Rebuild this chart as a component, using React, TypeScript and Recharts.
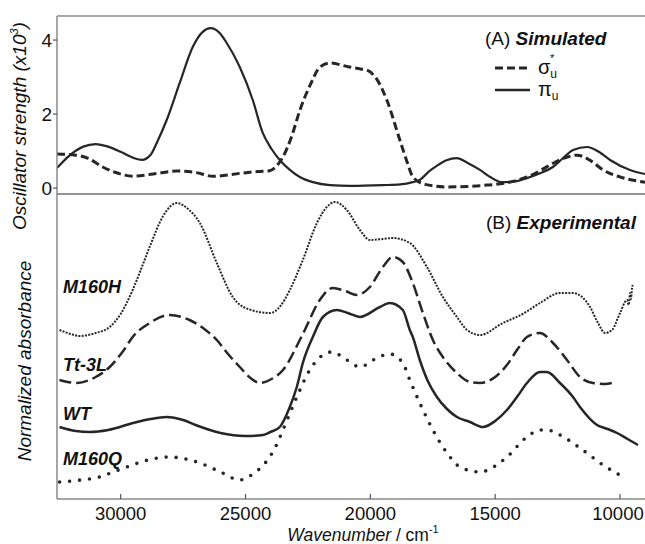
import React from 'react';
import { LineChart, Line, XAxis, YAxis, Legend, ReferenceLine } from 'recharts';

const FONT = '"Liberation Sans", Arial, Helvetica, sans-serif';
const INK = '#262626';
const AXIS = '#8a8a8a';

const xTicks = [30000, 25000, 20000, 15000, 10000];
const topYTicks = [0, 2, 4];

// (A) Simulated: oscillator strength (x10^3)
const sigmaWn = [32550, 31800, 31300, 30720, 30100, 29520, 28700, 27760, 27000, 26300, 25200, 24500, 24030, 23750, 23500, 23150, 22825, 22400, 22020, 21620, 20900, 20400, 20140, 19750, 19340, 18820, 18500, 18300, 17800, 16930, 15330, 14500, 13727, 13200, 12685, 12200, 11723, 11200, 10680, 9900, 9000];
const sigmaVal = [0.92, 0.89, 0.8, 0.57, 0.4, 0.32, 0.38, 0.46, 0.42, 0.32, 0.4, 0.45, 0.47, 0.6, 0.84, 1.4, 2.1, 2.8, 3.27, 3.38, 3.28, 3.22, 3.19, 2.95, 2.38, 1.3, 0.65, 0.3, 0.1, 0.03, 0.08, 0.15, 0.3, 0.47, 0.67, 0.82, 0.89, 0.75, 0.49, 0.28, 0.16];

const piWn = [32550, 32100, 31500, 31000, 30500, 30000, 29500, 29150, 28800, 28557, 28156, 27635, 27114, 26714, 26393, 26050, 25752, 25230, 24710, 24310, 23950, 23630, 23200, 22825, 22300, 21620, 20800, 19500, 18800, 18300, 18020, 17650, 17340, 16950, 16550, 16100, 15610, 15200, 14730, 14200, 13730, 13200, 12690, 12300, 11880, 11320, 10850, 10400, 9600, 9000];
const piVal = [0.54, 0.85, 1.12, 1.19, 1.12, 0.98, 0.82, 0.76, 0.9, 1.22, 1.84, 2.84, 3.81, 4.22, 4.32, 4.2, 3.92, 3.27, 2.38, 1.49, 1.05, 0.76, 0.48, 0.3, 0.16, 0.08, 0.06, 0.08, 0.1, 0.16, 0.22, 0.45, 0.6, 0.75, 0.81, 0.68, 0.49, 0.3, 0.16, 0.18, 0.27, 0.4, 0.57, 0.8, 1.03, 1.11, 0.98, 0.76, 0.49, 0.38];

// (B) Experimental: normalized absorbance (offset traces, arbitrary units)
const m160hWn = [32450, 32000, 31640, 31000, 30440, 30000, 29520, 29150, 28840, 28300, 27760, 27300, 26830, 26150, 25510, 24900, 24030, 23600, 23226, 22705, 22140, 21743, 21423, 20942, 20420, 20020, 19500, 19100, 18420, 17735, 17095, 16533, 16130, 15610, 14690, 13900, 13206, 12405, 11884, 11202, 10882, 10601, 10320, 10000, 9720, 9650, 9600, 9560, 9520, 9490];
const m160hVal = [169, 165, 163, 166, 172, 185, 209, 232, 252, 283, 296, 290, 276, 236, 202, 190, 186, 193, 209, 239, 276, 292, 297, 289, 269, 259, 260, 261, 256, 232, 202, 182, 169, 164, 176, 185, 196, 206, 206, 192, 176, 166, 169, 186, 199, 194, 206, 200, 211, 214];

const tt3lWn = [32450, 31760, 31000, 30440, 29900, 29520, 28840, 28040, 27240, 26650, 26150, 25700, 25230, 24800, 24430, 24030, 23500, 22705, 22024, 21500, 21000, 20540, 20020, 19500, 19100, 18700, 18300, 17896, 17495, 17095, 16533, 16010, 15610, 15000, 14500, 14100, 13730, 13210, 12685, 12124, 11603, 11082, 10600, 10320];
const tt3lVal = [119, 116, 122, 132, 148, 162, 176, 184, 179, 170, 159, 145, 132, 121, 116, 119, 129, 165, 199, 211, 208, 204, 212, 232, 242, 237, 216, 186, 159, 142, 126, 117, 116, 122, 135, 150, 162, 166, 156, 139, 122, 116, 115, 116];

const wtWn = [32450, 31800, 31240, 30500, 29500, 28800, 28160, 27500, 27000, 26000, 25000, 24300, 24000, 23627, 23226, 22946, 22705, 22305, 21900, 21343, 20900, 20420, 19620, 19220, 18700, 18420, 18300, 18020, 17700, 17335, 16930, 16533, 16010, 15490, 15000, 14530, 14100, 13727, 13206, 12926, 12405, 11884, 11603, 10922, 10500, 10120, 9700, 9279];
const wtVal = [72, 68, 67, 69, 76, 80, 82, 79, 74, 66, 63, 64, 67, 72, 92, 112, 136, 162, 182, 189, 186, 182, 192, 196, 189, 169, 162, 139, 118, 102, 90, 82, 77, 72, 78, 89, 103, 116, 127, 127, 116, 102, 92, 74, 70, 66, 60, 54];

const m160qWn = [32445, 31600, 30842, 30300, 29760, 28900, 28036, 27400, 26830, 26000, 25230, 24700, 24150, 23800, 23500, 22946, 22425, 21900, 21543, 20942, 20420, 19740, 19220, 18700, 18420, 18020, 17495, 16930, 16410, 15610, 15000, 14530, 13727, 13206, 12926, 12405, 11603, 10681, 9800];
const m160qVal = [17, 19, 22, 27, 32, 39, 42, 40, 36, 27, 19, 25, 38, 52, 69, 102, 129, 144, 147, 139, 132, 141, 145, 136, 119, 96, 69, 46, 32, 27, 33, 42, 62, 69, 69, 64, 51, 34, 21];

const zip = (wn: number[], v: number[]) => wn.map((x, i) => ({ x, y: v[i] }));

const sigmaData = zip(sigmaWn, sigmaVal);
const piData = zip(piWn, piVal);
const m160hData = zip(m160hWn, m160hVal);
const tt3lData = zip(tt3lWn, tt3lVal);
const wtData = zip(wtWn, wtVal);
const m160qData = zip(m160qWn, m160qVal);

const X_DOMAIN: [number, number] = [9000, 32550];
const TOP_Y: [number, number] = [-0.16, 4.65];
const BOT_Y: [number, number] = [0, 305];
const tickStyle = { fontSize: 19, fill: '#111', fontFamily: FONT };

const XTick = (props: any) => {
  const { x, y, payload } = props;
  const tx = Math.min(x, 645 - 27);
  return (
    <text x={tx} y={y} dy="0.71em" textAnchor="middle" fontSize={18.5} fill="#111" fontFamily={FONT}>
      {payload.value}
    </text>
  );
};

const LegendBox = () => (
  <svg width={110} height={46} style={{ overflow: 'visible', fontFamily: FONT }}>
    <line x1={5} x2={40} y1={12} y2={12} stroke={INK} strokeWidth={3} strokeDasharray="8 4" />
    <text x={48} y={18} fontSize={20} fill="#111">
      σ
      <tspan fontSize={12} dy={4}>u</tspan>
      <tspan fontSize={11} dx={-7} dy={-16}>*</tspan>
    </text>
    <line x1={5} x2={40} y1={34} y2={34} stroke={INK} strokeWidth={2.5} />
    <text x={48} y={40} fontSize={20} fill="#111">
      π<tspan fontSize={12} dy={4}>u</tspan>
    </text>
  </svg>
);

export default function App() {
  return (
    <div style={{ position: 'absolute', left: 0, top: 0, width: 645, height: 544, background: '#fff', fontFamily: FONT }}>
      <div style={{ position: 'absolute', left: 0, top: 190 }}>
        <LineChart width={645} height={354} margin={{ top: 4, right: 0, bottom: 0, left: 0 }}>
          <XAxis
            dataKey="x"
            type="number"
            domain={X_DOMAIN}
            reversed
            allowDataOverflow
            ticks={xTicks}
            interval={0}
            height={45}
            tickSize={-5}
            tickMargin={13}
            tick={<XTick />}
            axisLine={{ stroke: AXIS, strokeWidth: 1.5 }}
            tickLine={{ stroke: '#555', strokeWidth: 1.2 }}
          />
          <YAxis type="number" domain={BOT_Y} width={57} tick={false} tickLine={false} axisLine={{ stroke: AXIS, strokeWidth: 1.5 }} />
          <ReferenceLine y={BOT_Y[1]} stroke={AXIS} strokeWidth={1.5} />
          <Line data={m160hData} dataKey="y" type="monotone" stroke={INK} strokeWidth={2} strokeDasharray="2 1.3" dot={false} isAnimationActive={false} name="M160H" />
          <Line data={tt3lData} dataKey="y" type="monotone" stroke={INK} strokeWidth={2.5} strokeDasharray="12 5" dot={false} isAnimationActive={false} name="Tt-3L" />
          <Line data={wtData} dataKey="y" type="monotone" stroke={INK} strokeWidth={2.5} dot={false} isAnimationActive={false} name="WT" />
          <Line data={m160qData} dataKey="y" type="monotone" stroke={INK} strokeWidth={3.6} strokeDasharray="0 10" strokeLinecap="round" dot={false} isAnimationActive={false} name="M160Q" />
        </LineChart>
      </div>
      <div style={{ position: 'absolute', left: 0, top: 0 }}>
        <LineChart width={645} height={206} margin={{ top: 16, right: 0, bottom: 12, left: 0 }}>
          <XAxis dataKey="x" type="number" domain={X_DOMAIN} reversed allowDataOverflow hide />
          <YAxis
            type="number"
            domain={TOP_Y}
            ticks={topYTicks}
            interval={0}
            width={57}
            tickSize={4}
            tickMargin={1}
            tick={tickStyle}
            axisLine={{ stroke: AXIS, strokeWidth: 1.5 }}
            tickLine={{ stroke: '#555', strokeWidth: 1.2 }}
            allowDataOverflow
          />
          <ReferenceLine y={TOP_Y[1]} stroke={AXIS} strokeWidth={1.5} />
          <ReferenceLine y={TOP_Y[0]} stroke={AXIS} strokeWidth={1.5} />
          <Line data={sigmaData} dataKey="y" type="monotone" stroke={INK} strokeWidth={3} strokeDasharray="8 4" dot={false} isAnimationActive={false} name="σu*" />
          <Line data={piData} dataKey="y" type="monotone" stroke={INK} strokeWidth={2.2} dot={false} isAnimationActive={false} name="πu" />
          <Legend
            layout="horizontal"
            verticalAlign="middle"
            align="center"
            content={() => <LegendBox />}
            wrapperStyle={{ position: 'absolute', left: 490, top: 56, width: 110, height: 46 }}
          />
        </LineChart>
      </div>
      <svg width={645} height={544} style={{ position: 'absolute', left: 0, top: 0, pointerEvents: 'none', fontFamily: FONT }}>
        <text transform="translate(26,126) rotate(-90)" textAnchor="middle" fontSize={19} fontStyle="italic" fill="#111">
          Oscillator strength (x10<tspan fontSize={11} dy={-8}>3</tspan><tspan dy={8}>)</tspan>
        </text>
        <text transform="translate(31,361) rotate(-90)" textAnchor="middle" fontSize={19} fontStyle="italic" fill="#111">
          Normalized absorbance
        </text>
        <text x={363} y={540.5} textAnchor="middle" fontSize={17.5} fill="#111">
          <tspan fontStyle="italic">Wavenumber</tspan> / cm<tspan fontSize={11} dy={-8}>-1</tspan>
        </text>
        <text x={485} y={45} fontSize={19} fill="#111">
          (A) <tspan fontWeight="bold" fontStyle="italic">Simulated</tspan>
        </text>
        <text x={486} y={229} fontSize={19} fill="#111">
          (B) <tspan fontWeight="bold" fontStyle="italic">Experimental</tspan>
        </text>
        <g fontSize={18} fontWeight="bold" fontStyle="italic" fill="#111">
          <text x={63} y={293}>M160H</text>
          <text x={63} y={371}>Tt-3L</text>
          <text x={63} y={420}>WT</text>
          <text x={63} y={465}>M160Q</text>
        </g>
      </svg>
    </div>
  );
}
